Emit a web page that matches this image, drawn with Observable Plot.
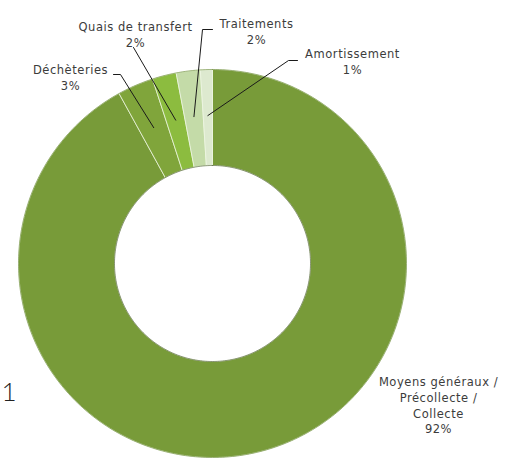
<!DOCTYPE html>
<html><head><meta charset="utf-8">
<script src="https://cdn.jsdelivr.net/npm/d3@7"></script>
<script src="https://cdn.jsdelivr.net/npm/@observablehq/plot@0.6"></script>
<style>
html,body{margin:0;padding:0;background:#fff;}
#chart svg{display:block;}
#chart svg g.lbl text{letter-spacing:0.55px;}
</style></head><body><div id="chart"></div>
<script>
// ---- data ----
const categories = ["Moyens généraux /\nPrécollecte /\nCollecte", "Déchèteries", "Quais de transfert", "Traitements", "Amortissement"];
const values = [92, 3, 2, 2, 1];
const valueLabels = ["92%", "3%", "2%", "2%", "1%"];
const strayText = ["1"];

// ---- styles / layout ----
const colors = ["#789b39", "#80a53b", "#8cbc3f", "#c4dba8", "#dde9cf"];
const W = 505, H = 459, cx = 212, cy = 263, R = 194, R0 = 98, leaderR = 148;
// label layout in page pixels (text block centre, leader start points)
const labelLayout = {
  "Moyens généraux /\nPrécollecte /\nCollecte": {px: 438, py: 404, path: []},
  "Déchèteries": {px: 70, py: 76, path: [[113, 74], [120, 74]]},
  "Quais de transfert": {px: 135, py: 33, path: [[133, 47]]},
  "Traitements": {px: 256, py: 30, path: [[212, 29], [202, 29]]},
  "Amortissement": {px: 352, py: 60, path: [[297, 60], [288, 60]]}
};
const toX = px => px - cx, toY = py => cy - py;

const total = d3.sum(values);
let acc = 0;
const slices = categories.map((c, i) => {
  const a0 = acc / total * 2 * Math.PI;
  acc += values[i];
  const a1 = acc / total * 2 * Math.PI;
  return {cat: c, value: values[i], a0, a1, mid: (a0 + a1) / 2, color: colors[i], label: valueLabels[i]};
});

const polyPts = [];
for (const s of slices) {
  const n = Math.max(4, Math.ceil((s.a1 - s.a0) / 0.01));
  const pts = [];
  for (let k = 0; k <= n; k++) { const a = s.a0 + (s.a1 - s.a0) * k / n; pts.push([R * Math.sin(a), R * Math.cos(a)]); }
  for (let k = n; k >= 0; k--) { const a = s.a0 + (s.a1 - s.a0) * k / n; pts.push([R0 * Math.sin(a), R0 * Math.cos(a)]); }
  pts.push(pts[0]);
  pts.forEach(p => polyPts.push({cat: s.cat, color: s.color, x: p[0], y: p[1]}));
}
// ring edges (shading)
const edgePts = [];
for (let k = 0; k <= 360; k++) {
  const a = k / 360 * 2 * Math.PI;
  edgePts.push({ring: "outer", x: R * Math.sin(a), y: R * Math.cos(a)});
}
for (let k = 0; k <= 360; k++) {
  const a = k / 360 * 2 * Math.PI;
  edgePts.push({ring: "inner", x: R0 * Math.sin(a), y: R0 * Math.cos(a)});
}

const leaderPts = [];
for (const s of slices) {
  const L = labelLayout[s.cat];
  if (!L.path.length) continue;
  L.path.forEach(p => leaderPts.push({cat: s.cat, x: toX(p[0]), y: toY(p[1])}));
  leaderPts.push({cat: s.cat, x: leaderR * Math.sin(s.mid), y: leaderR * Math.cos(s.mid)});
}

const labels = slices.map(s => ({text: s.cat + "\n" + s.label, x: toX(labelLayout[s.cat].px), y: toY(labelLayout[s.cat].py)}));

const chart = Plot.plot({
  width: W, height: H, margin: 0,
  x: {domain: [-cx, W - cx], axis: null},
  y: {domain: [cy - H, cy], axis: null},
  style: {fontFamily: "DejaVu Sans", background: "#fff"},
  marks: [
    Plot.line(polyPts, {x: "x", y: "y", z: "cat", fill: "color", stroke: "#eef5e2", strokeWidth: 1, strokeOpacity: 0.75}),
    Plot.line(edgePts, {x: "x", y: "y", z: "ring", stroke: d => d.ring === "outer" ? "#5f7f2a" : "#3f4f28", strokeWidth: 1, strokeOpacity: 0.55}),
    Plot.line(leaderPts, {x: "x", y: "y", z: "cat", stroke: "#1a1a1a", strokeWidth: 1}),
    Plot.text(labels, {x: "x", y: "y", text: "text", fontSize: 11.5, fill: "#3c3c3c", lineAnchor: "middle", lineHeight: 1.38, className: "lbl"}),
    Plot.text(strayText, {text: d => d, frameAnchor: "left", dx: 1, dy: 163, fontSize: 26, fontFamily: "Lato", fontWeight: 300, fill: "#222", textAnchor: "start"})
  ]
});
document.getElementById("chart").appendChild(chart);
</script></body></html>
